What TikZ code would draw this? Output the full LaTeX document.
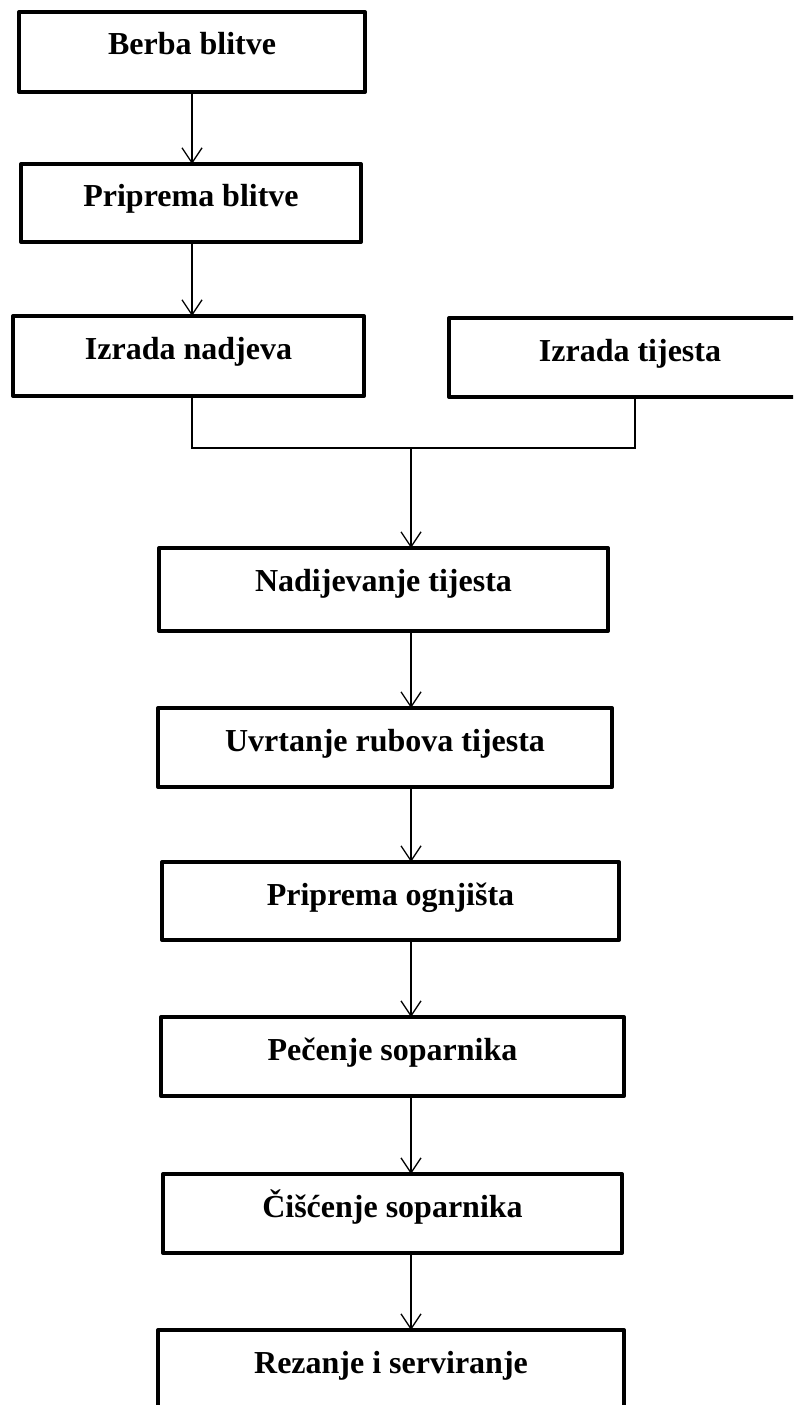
\documentclass[tikz,border=0pt]{standalone}
\usepackage{fontspec}
\setmainfont{Liberation Serif}
\usetikzlibrary{arrows.meta}
\begin{document}
\begin{tikzpicture}[x=1bp,y=-1bp,
  stepbox/.style={draw, line width=4bp, line join=round, inner sep=0pt, outer sep=0pt,
    anchor=north, text height=43bp, text depth=37bp,
    font=\fontsize{32bp}{38bp}\selectfont\bfseries},
  flow/.style={line width=1.3bp},
  arr/.style={flow, -{Straight Barb[length=15bp,width=20bp]}}]
\useasboundingbox (0,0) rectangle (793,1405);
\clip (0,0) rectangle (793,1405);
\node[stepbox, minimum width=346bp] (b1) at (192,12) {Berba blitve};
\node[stepbox, minimum width=340bp, text depth=35bp] (b2) at (191,164) {Priprema blitve};
\node[stepbox, minimum width=351bp] (b3) at (188.5,316) {Izrada nadjeva};
\node[stepbox, minimum width=362bp, text depth=36bp] (b4) at (630,318) {Izrada tijesta};
\node[stepbox, minimum width=449bp, text depth=40bp] (b5) at (383.5,548) {Nadijevanje tijesta};
\node[stepbox, minimum width=454bp, text depth=36bp] (b6) at (385,708) {Uvrtanje rubova tijesta};
\node[stepbox, minimum width=457bp, text depth=35bp] (b7) at (390.5,862) {Priprema ognjišta};
\node[stepbox, minimum width=463bp, text depth=36bp] (b8) at (392.5,1017) {Pečenje soparnika};
\node[stepbox, minimum width=459bp, text depth=36bp] (b9) at (392.5,1174) {Čišćenje soparnika};
\node[stepbox, minimum width=466bp] (b10) at (391,1330) {Rezanje i serviranje};
\coordinate (jl) at (192,448);
\coordinate (jr) at (635,448);
\coordinate (jm) at (411,448);
\draw[arr] (b1.south -| jl) -- (b2.north -| jl);
\draw[arr] (b2.south -| jl) -- (b3.north -| jl);
\draw[flow] (b3.south -| jl) -- (jl) -- (jr) -- (b4.south -| jr);
\draw[arr] (jm) -- (b5.north -| jm);
\draw[arr] (b5.south -| jm) -- (b6.north -| jm);
\draw[arr] (b6.south -| jm) -- (b7.north -| jm);
\draw[arr] (b7.south -| jm) -- (b8.north -| jm);
\draw[arr] (b8.south -| jm) -- (b9.north -| jm);
\draw[arr] (b9.south -| jm) -- (b10.north -| jm);
\end{tikzpicture}
\end{document}
